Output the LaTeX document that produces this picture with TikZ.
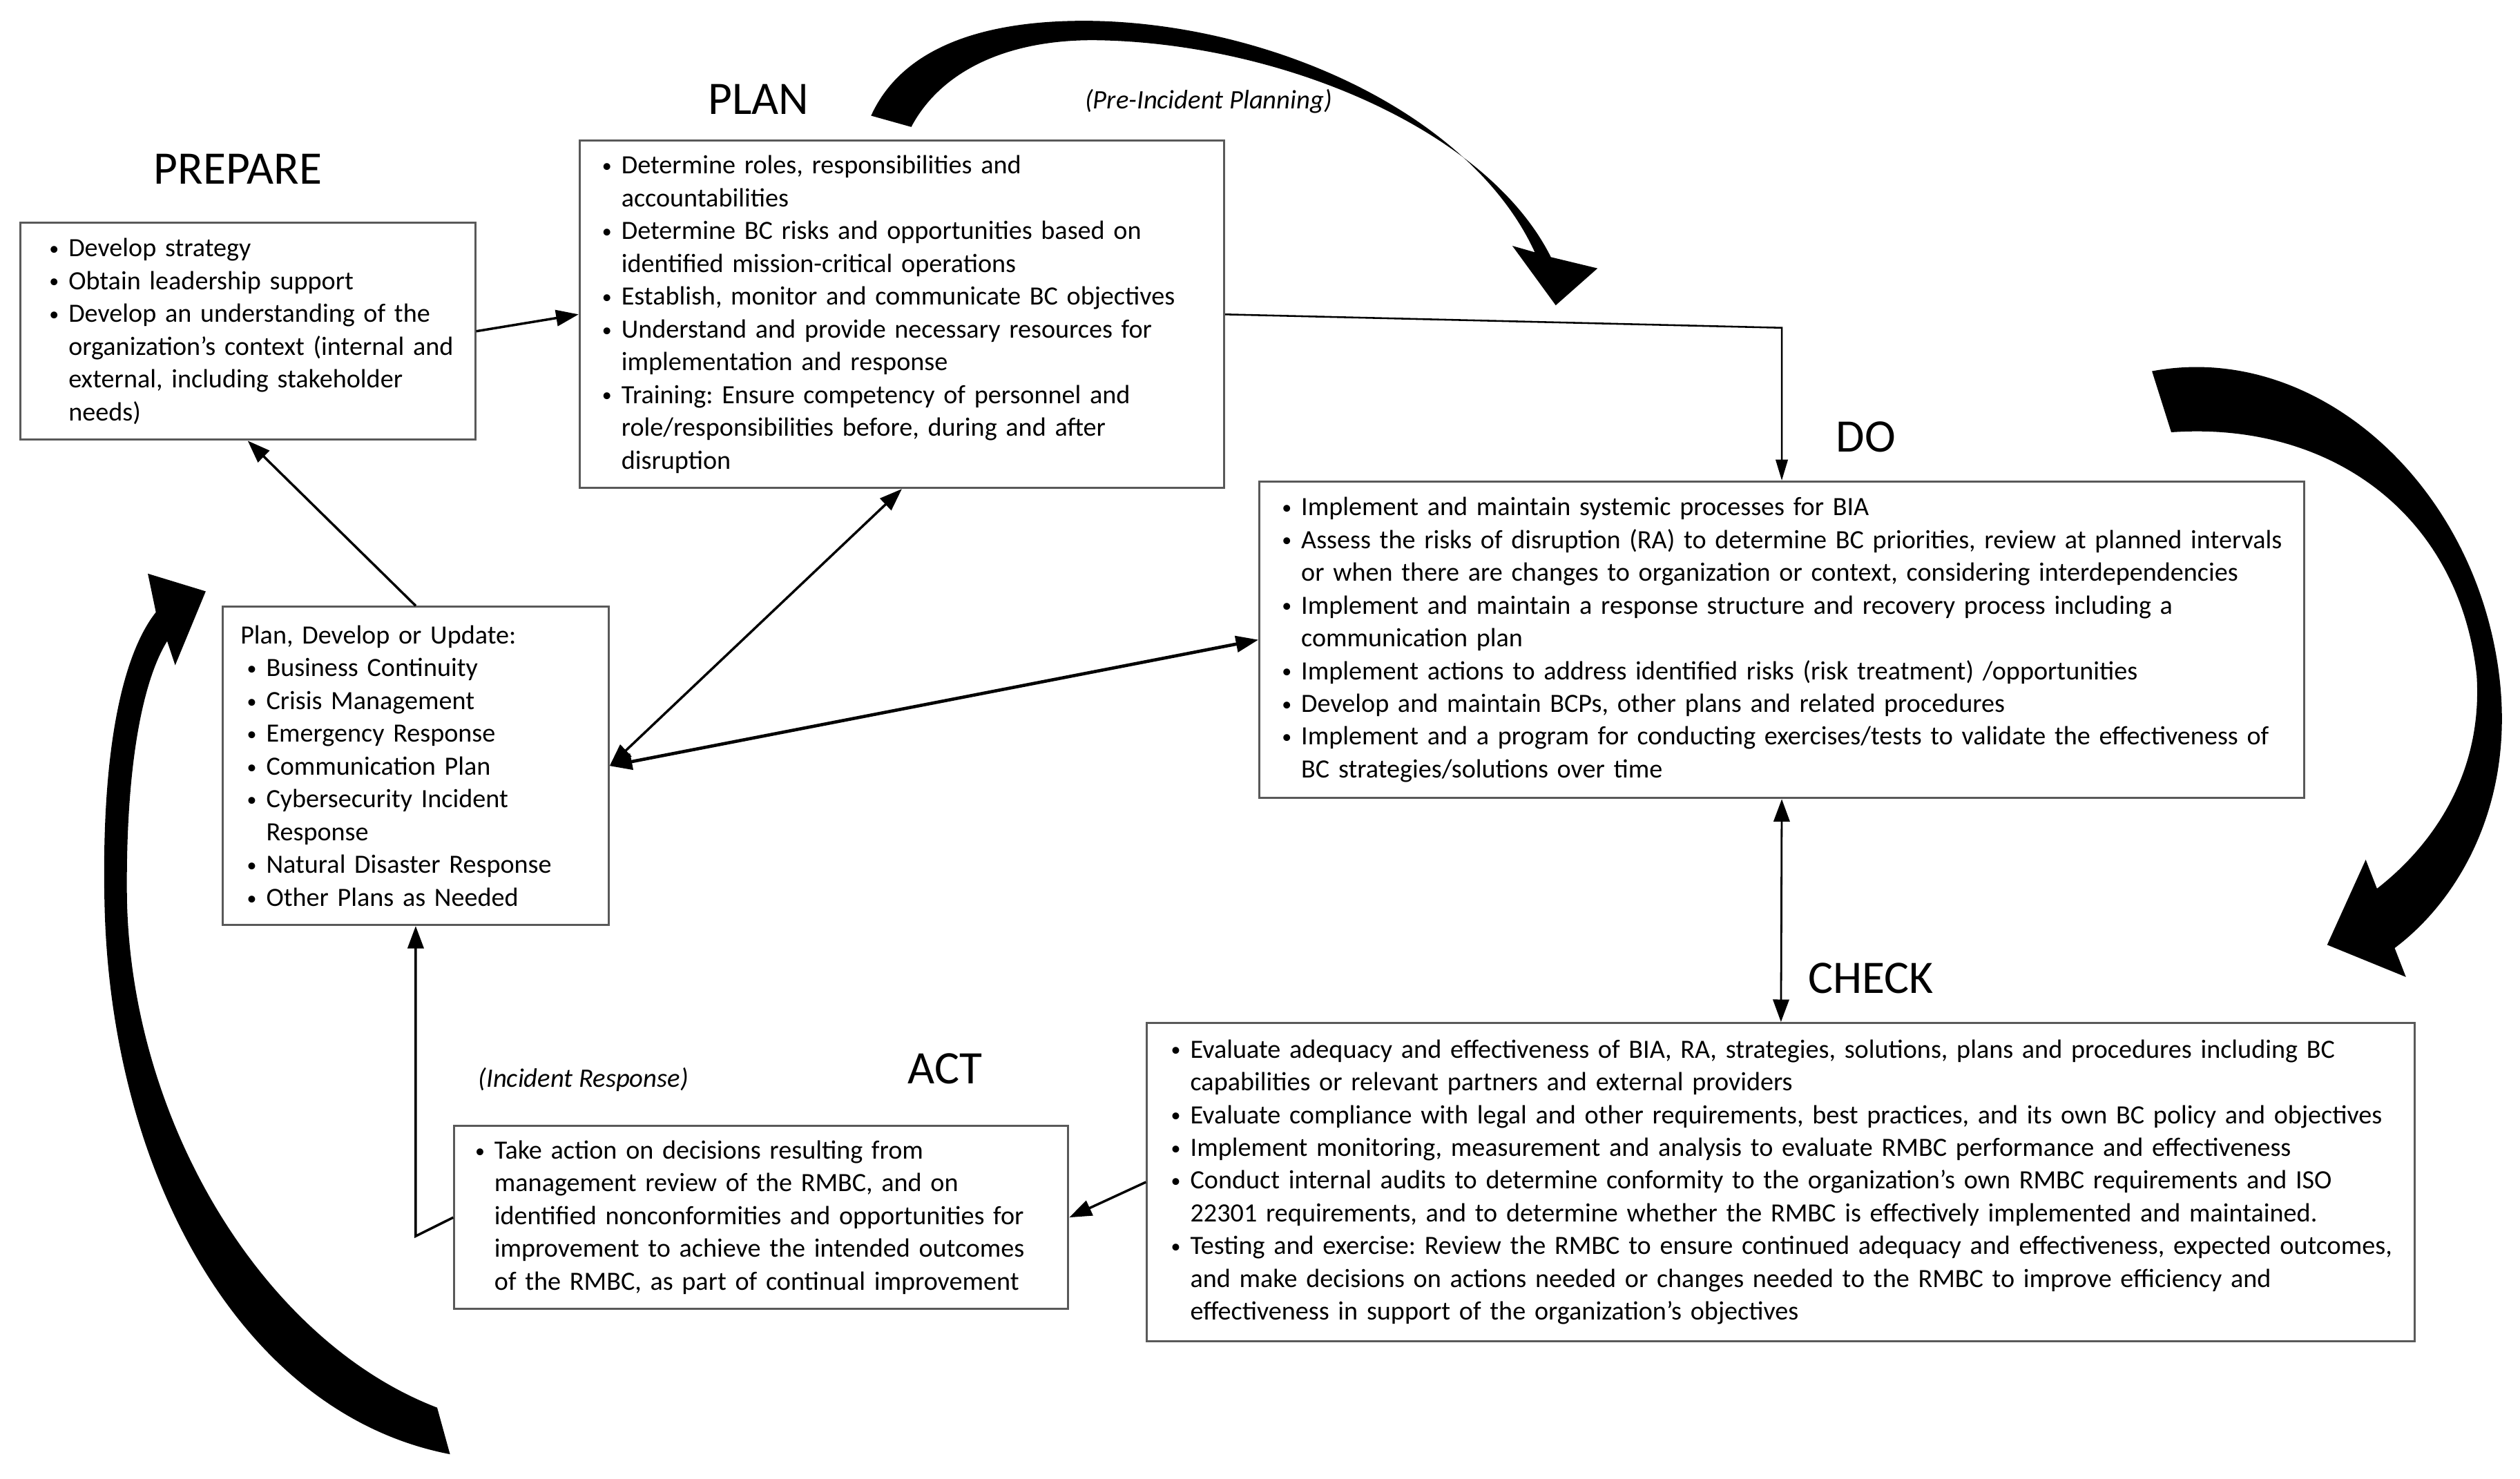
\documentclass[tikz,border=0pt]{standalone}
\usepackage{fontspec}
\setmainfont{Carlito}
\usetikzlibrary{arrows.meta,calc}
\newlength\bulw
\setlength\bulw{12pt}
\newcommand\bul{\raisebox{0.12ex}{\fontsize{12}{12}\selectfont\textbullet}}
\newcommand\B[2][0pt]{\mbox{\hspace*{#1}\makebox[\bulw][l]{\bul}#2}}
\newcommand\C[2][0pt]{\mbox{\hspace*{\dimexpr#1+\bulw\relax}#2}}
\frenchspacing
\begin{document}
\begin{tikzpicture}[x=1pt,y=-1pt,
  box/.style={draw=black!65, line width=1.3pt, fill=white, anchor=north west,
    align=left, inner ysep=0pt, font=\fontsize{16.4}{20.4}\selectfont\frenchspacing},
  title/.style={font=\fontsize{29}{34}\selectfont, inner sep=0pt},
  note/.style={font=\fontsize{16.6}{19}\selectfont\itshape, inner sep=0pt},
  conn/.style={line width=1.5pt, -{Triangle[length=14pt,width=10pt]}},
  thinconn/.style={line width=1.1pt, -{Triangle[length=13pt,width=7.5pt]}},
  dconn/.style={line width=1.5pt, {Triangle[length=14pt,width=10pt]}-{Triangle[length=14pt,width=10pt]}},
  bigarrow/.style={fill=black}]
\useasboundingbox (0,0) rectangle (1568,920.4);

% titles
\node[title] (tprep) at (148,105) {PREPARE};
\node[title] (tplan) at (472,62) {PLAN};
\node[title] (tdo) at (1161,272) {DO};
\node[title] (tcheck) at (1164,609) {CHECK};
\node[title] (tact) at (588,665) {ACT};
\node[note] (npre) at (752,63) {(Pre-Incident Planning)};
\node[note] (ninc) at (363,672) {(Incident Response)};

% boxes
\node[box, minimum width=283pt, minimum height=135pt, inner xsep=18pt, text width=247pt] (prep) at (12,138) {%
\B{Develop strategy}\\
\B{Obtain leadership support}\\
\B{Develop an understanding of the}\\
\C{organization’s context (internal and}\\
\C{external, including stakeholder}\\
\C{needs)}};

\node[box, minimum width=401pt, minimum height=216pt, inner xsep=14pt, text width=373pt] (plan) at (360,87) {%
\B{Determine roles, responsibilities and}\\
\C{accountabilities}\\
\B{Determine BC risks and opportunities based on}\\
\C{identified mission-critical operations}\\
\B{Establish, monitor and communicate BC objectives}\\
\B{Understand and provide necessary resources for}\\
\C{implementation and response}\\
\B{Training: Ensure competency of personnel and}\\
\C{role/responsibilities before, during and after}\\
\C{disruption}};

\node[box, minimum width=650pt, minimum height=197pt, inner xsep=14pt, text width=622pt] (do) at (783,299) {%
\B{Implement and maintain systemic processes for BIA}\\
\B{Assess the risks of disruption (RA) to determine BC priorities, review at planned intervals}\\
\C{or when there are changes to organization or context, considering interdependencies}\\
\B{Implement and maintain a response structure and recovery process including a}\\
\C{communication plan}\\
\B{Implement actions to address identified risks (risk treatment) /opportunities}\\
\B{Develop and maintain BCPs, other plans and related procedures}\\
\B{Implement and a program for conducting exercises/tests to validate the effectiveness of}\\
\C{BC strategies/solutions over time}};

\node[box, minimum width=789pt, minimum height=198pt, inner xsep=15pt, text width=759pt] (check) at (713,636) {%
\B{Evaluate adequacy and effectiveness of BIA, RA, strategies, solutions, plans and procedures including BC}\\
\C{capabilities or relevant partners and external providers}\\
\B{Evaluate compliance with legal and other requirements, best practices, and its own BC policy and objectives}\\
\B{Implement monitoring, measurement and analysis to evaluate RMBC performance and effectiveness}\\
\B{Conduct internal audits to determine conformity to the organization’s own RMBC requirements and ISO}\\
\C{22301 requirements, and to determine whether the RMBC is effectively implemented and maintained.}\\
\B{Testing and exercise: Review the RMBC to ensure continued adequacy and effectiveness, expected outcomes,}\\
\C{and make decisions on actions needed or changes needed to the RMBC to improve efficiency and}\\
\C{effectiveness in support of the organization’s objectives}};

\node[box, minimum width=382pt, minimum height=114pt, inner xsep=13pt, text width=356pt] (act) at (282,700) {%
\B{Take action on decisions resulting from}\\
\C{management review of the RMBC, and on}\\
\C{identified nonconformities and opportunities for}\\
\C{improvement to achieve the intended outcomes}\\
\C{of the RMBC, as part of continual improvement}};

\node[box, minimum width=240pt, minimum height=198pt, inner xsep=11pt, text width=218pt] (pdu) at (138,377) {%
\mbox{Plan, Develop or Update:}\\
\B[4pt]{Business Continuity}\\
\B[4pt]{Crisis Management}\\
\B[4pt]{Emergency Response}\\
\B[4pt]{Communication Plan}\\
\B[4pt]{Cybersecurity Incident}\\
\C[4pt]{Response}\\
\B[4pt]{Natural Disaster Response}\\
\B[4pt]{Other Plans as Needed}};

% connectors
\draw[conn] (prep.east) -- (plan.west);
\draw[thinconn] (plan.east) -- ($(do.north)+(0,-95)$) -- (do.north);
\draw[conn] (pdu.north) -- (prep.south);
\draw[dconn] (plan.south) -- (pdu.east);
\draw[dconn, line width=2pt] (pdu.east) -- (do.west);
\draw[dconn, line width=1.2pt] (do.south) -- (check.north);
\draw[conn] (check.west) -- (act.east);
\draw[conn] (act.west) -- ($(pdu.south)+(0,193)$) -- (pdu.south);

% big curved arrows
\fill[bigarrow] (542,72) .. controls (562,28) and (615,12) .. (680,13)
  .. controls (790,15) and (915,70) .. (955,157)
  -- (941,153) -- (968,190) -- (994,167) -- (965,160)
  .. controls (925,80) and (795,26) .. (680,25)
  .. controls (625,25) and (585,45) .. (567,79) -- cycle;

\fill[bigarrow] (1339,231) .. controls (1440,212) and (1540,300) .. (1555,420)
  .. controls (1565,500) and (1530,560) .. (1490,590)
  -- (1497,608) -- (1448,588) -- (1472,535) -- (1479,553)
  .. controls (1515,525) and (1545,480) .. (1541,420)
  .. controls (1530,320) and (1450,262) .. (1351,269) -- cycle;

\fill[bigarrow] (280,905) .. controls (150,880) and (68,730) .. (65,560)
  .. controls (63,460) and (78,405) .. (97,381)
  -- (92,357) -- (128,368) -- (109,414) -- (104,399)
  .. controls (88,425) and (78,480) .. (79,560)
  .. controls (82,700) and (165,835) .. (272,876) -- cycle;
\end{tikzpicture}
\end{document}
